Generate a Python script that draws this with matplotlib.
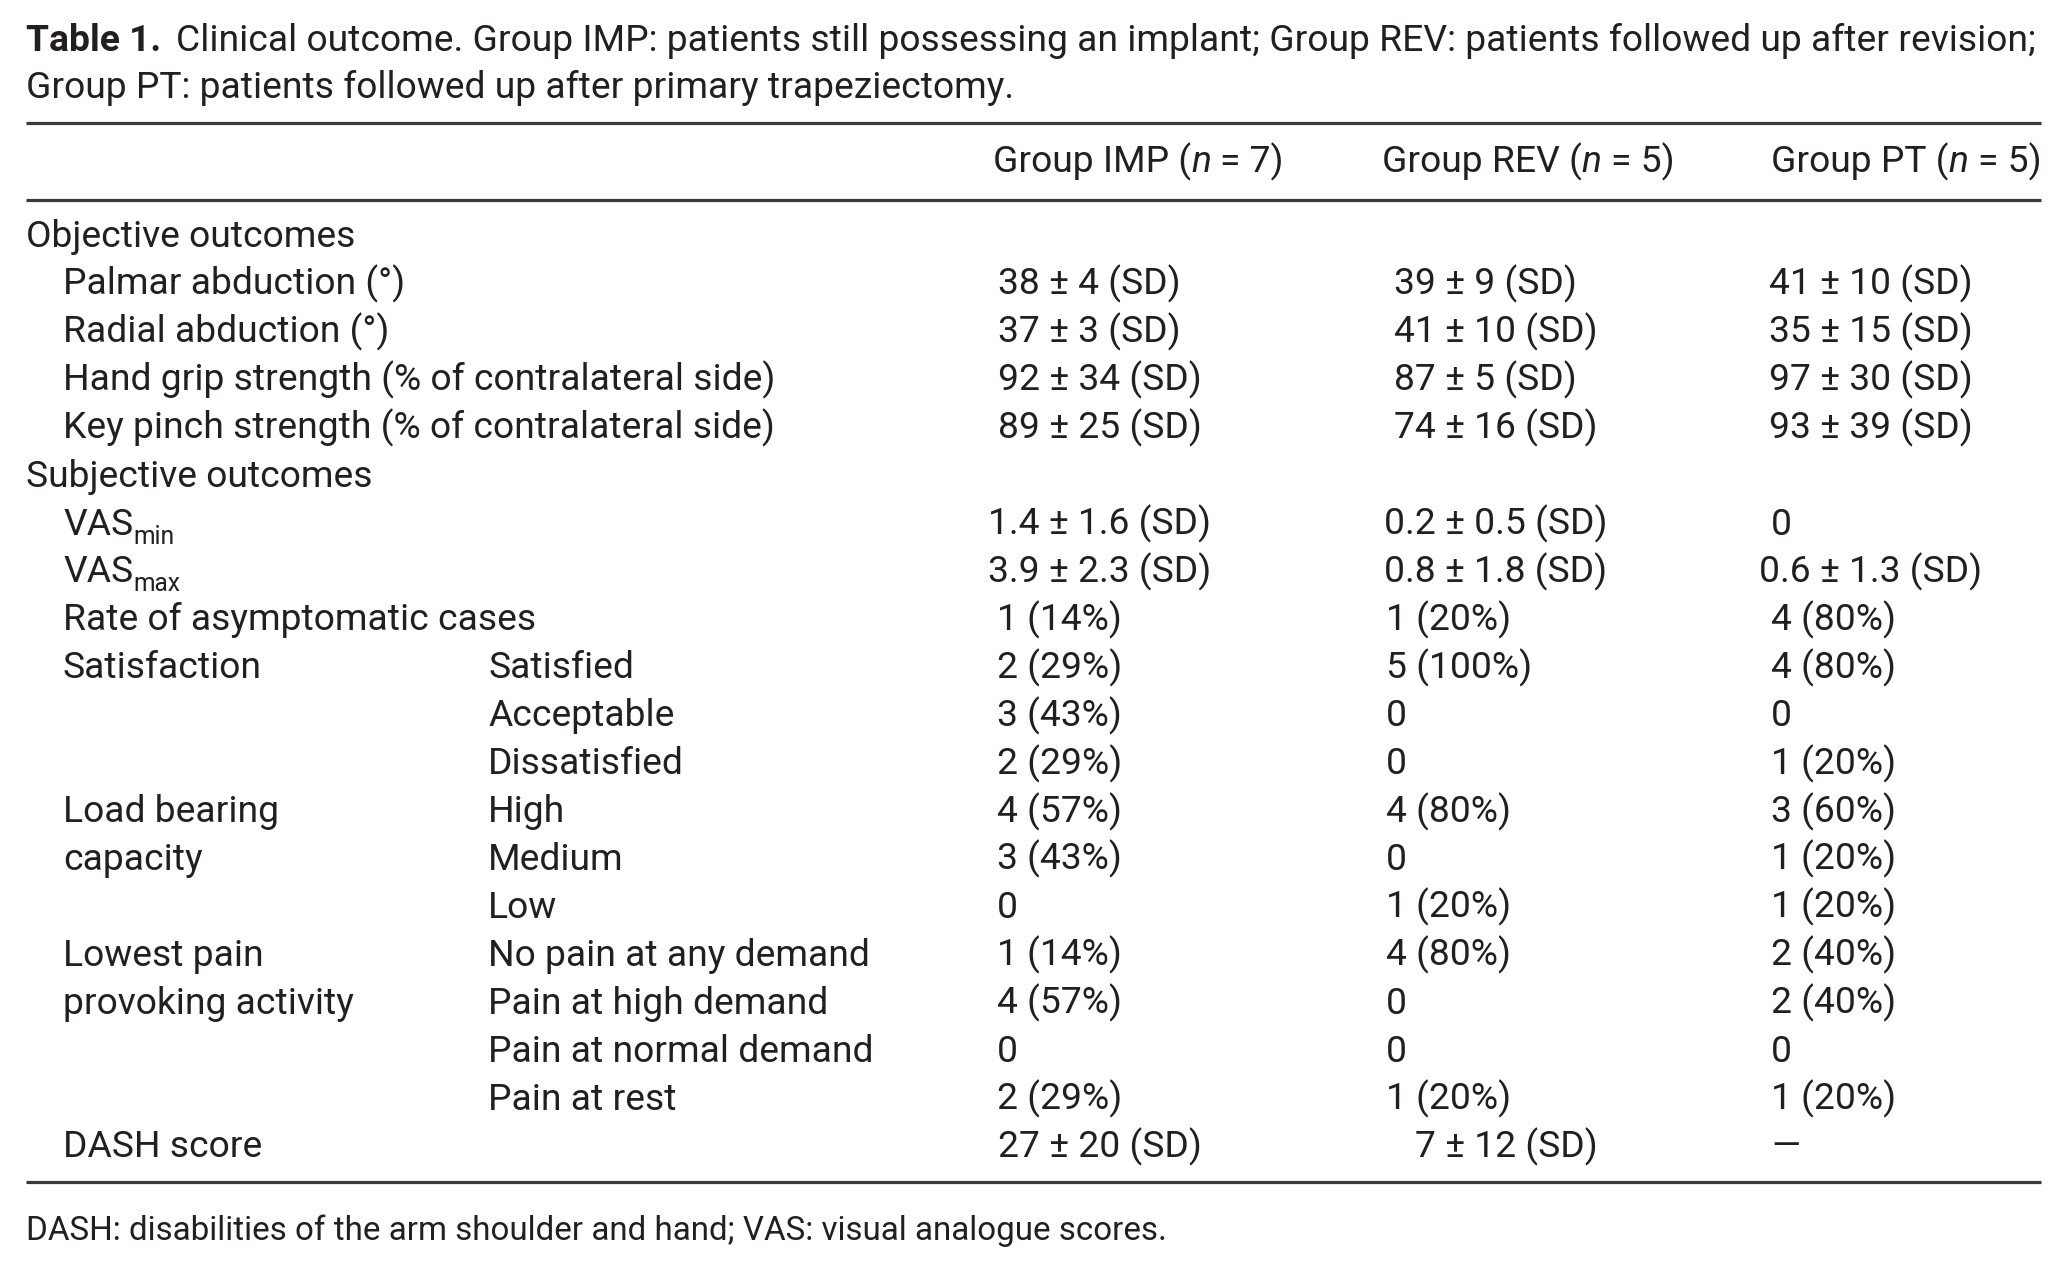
import matplotlib
matplotlib.use("Agg")
import matplotlib.pyplot as plt

FONT = ["Roboto", "DejaVu Sans"]
INK = "#231f20"
SIZE = 26.8

title_bold = "Table 1."
title_lines = ["Clinical outcome. Group IMP: patients still possessing an implant; Group REV: patients followed up after revision;",
               "Group PT: patients followed up after primary trapeziectomy."]
footnote = "DASH: disabilities of the arm shoulder and hand; VAS: visual analogue scores."

group_names = ["Group IMP", "Group REV", "Group PT"]
group_n = [7, 5, 5]

# "|" marks a subscript
row_labels = ["Objective outcomes", "Palmar abduction (°)", "Radial abduction (°)",
              "Hand grip strength (% of contralateral side)",
              "Key pinch strength (% of contralateral side)",
              "Subjective outcomes", "VAS|min", "VAS|max", "Rate of asymptomatic cases",
              "Satisfaction", "", "", "Load bearing", "capacity", "",
              "Lowest pain", "provoking activity", "", "", "DASH score"]
row_level = [0, 1, 1, 1, 1, 0, 1, 1, 1, 1, 1, 1, 1, 1, 1, 1, 1, 1, 1, 1]
sub_labels = ["", "", "", "", "", "", "", "", "",
              "Satisfied", "Acceptable", "Dissatisfied", "High", "Medium", "Low",
              "No pain at any demand", "Pain at high demand", "Pain at normal demand",
              "Pain at rest", ""]

imp = ["", "38 ± 4 (SD)", "37 ± 3 (SD)", "92 ± 34 (SD)", "89 ± 25 (SD)", "",
       "1.4 ± 1.6 (SD)", "3.9 ± 2.3 (SD)", "1 (14%)", "2 (29%)", "3 (43%)", "2 (29%)",
       "4 (57%)", "3 (43%)", "0", "1 (14%)", "4 (57%)", "0", "2 (29%)", "27 ± 20 (SD)"]
rev = ["", "39 ± 9 (SD)", "41 ± 10 (SD)", "87 ± 5 (SD)", "74 ± 16 (SD)", "",
       "0.2 ± 0.5 (SD)", "0.8 ± 1.8 (SD)", "1 (20%)", "5 (100%)", "0", "0",
       "4 (80%)", "0", "1 (20%)", "4 (80%)", "0", "0", "1 (20%)", "7 ± 12 (SD)"]
pt = ["", "41 ± 10 (SD)", "35 ± 15 (SD)", "97 ± 30 (SD)", "93 ± 39 (SD)", "",
      "0", "0.6 ± 1.3 (SD)", "4 (80%)", "4 (80%)", "0", "1 (20%)",
      "3 (60%)", "1 (20%)", "1 (20%)", "2 (40%)", "2 (40%)", "0", "1 (20%)", "—"]

W, H = 2065, 1272
fig = plt.figure(figsize=(W / 100, H / 100), dpi=100)
ax = fig.add_axes([0, 0, 1, 1])
ax.set_xlim(0, W)
ax.set_ylim(H, 0)
ax.axis("off")
rend = fig.canvas.get_renderer()


def txt(x, y, s, **kw):
    opts = dict(family=FONT, fontsize=SIZE, color=INK, va="baseline", ha="left")
    opts.update(kw)
    return ax.text(x, y, s, **opts)


def width(s, **kw):
    t = txt(0, 0, s, **kw)
    w = t.get_window_extent(rend).width
    t.remove()
    return w


space = width("x x") - width("xx")


def runs(x, y, parts):
    # parts: (text, kwargs) drawn one after another
    for s, kw in parts:
        kw = dict(kw)
        dy = kw.pop("dy", 0)
        gap = kw.pop("gap", 0)
        x += gap
        t = txt(x, y + dy, s, **kw)
        x = t.get_window_extent(rend).x1
    return x


def cell(x_pm, x_left, y, s):
    # values with ± are lined up on the ± sign
    if "±" in s:
        head = s.split("±")[0] + "±"
        x0 = x_pm - width(head) + width("±") / 2
        txt(x0, y, s)
    else:
        txt(x_left, y, s)


left, right = 26, 2041
col_head = [993, 1382, 1771]
col_left = [997, 1386, 1771]
col_pm = [1059, 1455, 1830]

# title
x = runs(left, 51, [(title_bold, dict(weight="bold"))])
txt(x + 1.6 * space, 51, title_lines[0])
txt(left, 98, title_lines[1])

# rules
for yr in [123, 200, 1182]:
    ax.plot([left, right], [yr, yr], color="#3a3a3a", lw=2.3, solid_capstyle="butt")

# header
for xh, g, n in zip(col_head, group_names, group_n):
    runs(xh, 172, [(g + " (", {}), ("n", dict(style="italic")), ("= %d)" % n, dict(gap=space))])

# body
y0, step = 247, 47.92
for i, lab in enumerate(row_labels):
    y = y0 + i * step
    xl = left + (37 if row_level[i] else 0)
    if "|" in lab:
        base, sub = lab.split("|")
        runs(xl, y, [(base, {}), (sub, dict(fontsize=SIZE * 0.66, dy=9))])
    elif lab:
        txt(xl, y, lab)
    if sub_labels[i]:
        txt(488, y, sub_labels[i])
    for k, col in enumerate([imp, rev, pt]):
        if col[i]:
            cell(col_pm[k], col_left[k], y, col[i])

txt(left, 1240, footnote, fontsize=SIZE * 0.89)

fig.savefig("out.png", dpi=100, facecolor="white")
